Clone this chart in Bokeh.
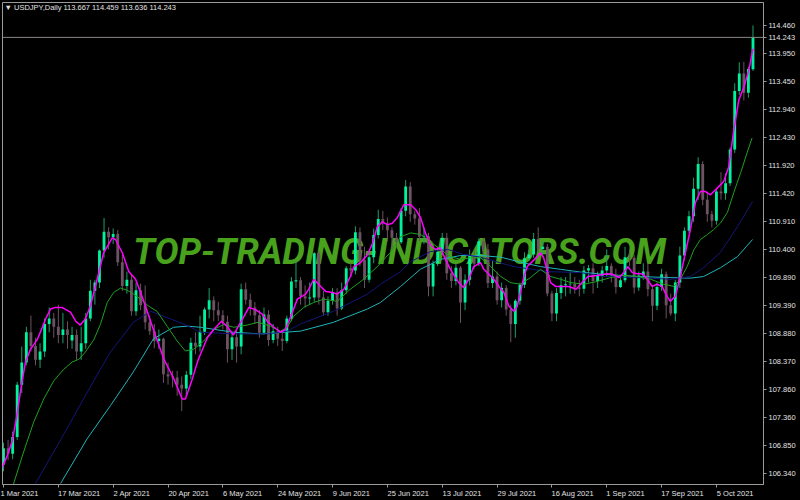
from bokeh.plotting import figure
from bokeh.models import (ColumnDataSource, LinearAxis, FixedTicker, Range1d, Label, Span,
                          NumeralTickFormatter, GlobalInlineStyleSheet)
from bokeh.embed import file_html
from bokeh.resources import INLINE

# ---------------- data (USDJPY daily, 1 Mar 2021 .. 15 Oct 2021) ----------------
symbol = "USDJPY,Daily"

opens = [
    # Mar
    106.50, 106.80, 106.70, 107.00, 107.95, 108.35, 108.90, 108.65, 108.40, 108.55, 109.05, 109.15,
    109.00, 108.85, 108.95, 108.75, 108.85, 108.55, 108.70, 109.15, 109.65, 109.80, 110.38,
    # Apr
    110.72, 110.62, 110.68, 110.17, 109.74, 109.85, 109.28, 109.66, 109.39, 109.08, 108.92, 108.74,
    108.78, 108.14, 108.10, 108.08, 107.95, 107.88, 108.13, 108.71, 108.64, 108.91,
    # May
    109.31, 109.48, 109.30, 109.21, 109.09, 108.59, 108.81, 108.64, 109.68, 109.49, 109.35, 109.21,
    108.89, 109.22, 108.76, 108.92, 108.78, 108.74, 109.15, 109.82, 109.84,
    # Jun
    109.55, 109.51, 109.53, 110.33, 109.53, 109.26, 109.47, 109.62, 109.33, 109.66, 110.06, 110.02,
    110.71, 110.21, 109.85, 110.26, 110.66, 110.95, 110.87, 110.75, 110.61, 110.53,
    # Jul
    111.10, 111.54, 111.04, 110.96, 110.63, 110.64, 109.73, 110.14, 110.36, 110.61, 109.97, 109.83,
    110.07, 109.44, 109.85, 110.28, 110.14, 110.55, 110.40, 109.79, 109.91, 109.48,
    # Aug
    109.70, 109.31, 109.05, 109.47, 109.76, 110.24, 110.31, 110.59, 110.41, 110.45, 109.60, 109.24,
    109.61, 109.75, 109.77, 109.78, 109.71, 109.69, 110.02, 110.06, 109.83, 109.92,
    # Sep
    110.02, 110.10, 109.93, 109.72, 109.84, 110.26, 110.25, 109.71, 109.93, 110.00, 109.68, 109.38,
    109.72, 109.95, 109.39, 109.24, 109.80, 110.29, 110.74, 111.00, 111.50, 111.95,
    # Oct
    111.30, 111.04, 110.92, 111.45, 111.42, 111.60, 112.21, 113.27, 113.59, 113.24, 113.667,
]
highs = [
    106.90, 106.95, 107.10, 108.00, 108.64, 109.00, 109.20, 108.80, 108.70, 109.15, 109.35, 109.25,
    109.40, 109.25, 109.10, 109.00, 108.95, 109.00, 109.25, 109.85, 109.85, 110.40, 110.97,
    110.80, 110.78, 110.75, 110.30, 110.00, 109.95, 109.80, 109.78, 109.75, 109.20, 109.05, 108.95,
    108.80, 108.35, 108.20, 108.20, 108.10, 108.20, 108.80, 108.90, 109.20, 109.35,
    109.70, 109.55, 109.45, 109.30, 109.20, 108.90, 108.95, 109.78, 109.80, 109.60, 109.45, 109.30,
    109.35, 109.30, 109.05, 109.00, 108.90, 109.20, 109.90, 110.20, 109.90,
    109.75, 109.80, 110.35, 110.38, 109.65, 109.55, 109.70, 109.70, 109.80, 110.10, 110.15, 110.82,
    110.80, 110.45, 110.35, 110.78, 111.12, 111.10, 110.98, 110.80, 110.70, 111.15,
    111.66, 111.62, 111.10, 111.15, 110.80, 110.70, 110.20, 110.45, 110.70, 110.70, 110.10, 110.15,
    110.10, 109.95, 110.40, 110.40, 110.60, 110.60, 110.50, 110.20, 110.00, 109.80,
    109.75, 109.40, 109.50, 109.80, 110.35, 110.40, 110.70, 110.80, 110.55, 110.50, 109.65, 109.70,
    109.90, 109.90, 110.00, 109.90, 109.85, 110.10, 110.12, 110.15, 110.00, 110.10,
    110.40, 110.15, 110.05, 109.90, 110.45, 110.40, 110.30, 110.00, 110.15, 110.15, 109.75, 109.80,
    110.05, 110.00, 109.60, 109.85, 110.45, 110.80, 111.10, 111.70, 112.07, 112.00,
    111.45, 111.10, 111.50, 111.80, 111.78, 112.25, 113.41, 113.79, 113.80, 113.71, 114.459,
]
lows = [
    106.38, 106.58, 106.60, 106.95, 107.80, 108.30, 108.55, 108.30, 108.25, 108.45, 108.90, 108.80,
    108.70, 108.70, 108.60, 108.60, 108.40, 108.40, 108.60, 109.10, 109.40, 109.70, 110.25,
    110.40, 110.50, 110.10, 109.65, 109.60, 109.20, 109.20, 109.30, 108.95, 108.85, 108.61, 108.60,
    107.98, 107.95, 107.90, 107.75, 107.47, 107.75, 108.05, 108.50, 108.55, 108.85,
    109.15, 109.10, 109.10, 108.95, 108.35, 108.40, 108.35, 108.50, 109.40, 109.20, 109.05, 108.80,
    108.85, 108.65, 108.70, 108.65, 108.56, 108.70, 109.10, 109.70, 109.40,
    109.35, 109.40, 109.45, 109.40, 109.20, 109.20, 109.40, 109.20, 109.30, 109.60, 109.90, 109.95,
    110.10, 109.70, 109.80, 110.15, 110.60, 110.75, 110.55, 110.40, 110.45, 110.50,
    111.00, 110.90, 110.85, 110.55, 110.50, 109.55, 109.55, 110.10, 110.30, 109.85, 109.70, 109.75,
    109.07, 109.30, 109.75, 110.05, 110.10, 110.30, 109.70, 109.70, 109.40, 109.35,
    109.20, 108.72, 108.80, 109.40, 109.70, 110.20, 110.25, 110.35, 110.30, 109.55, 109.10, 109.10,
    109.50, 109.55, 109.60, 109.60, 109.55, 109.60, 109.80, 109.60, 109.70, 109.80,
    109.90, 109.80, 109.60, 109.70, 109.80, 110.10, 109.60, 109.65, 109.85, 109.55, 109.10, 109.30,
    109.65, 109.15, 109.20, 109.10, 109.70, 110.20, 110.70, 110.90, 111.30, 111.20,
    110.90, 110.80, 110.85, 111.30, 111.30, 111.55, 112.15, 113.20, 113.10, 113.15, 113.636,
]
closes = [
    106.80, 106.70, 107.00, 107.95, 108.35, 108.90, 108.65, 108.40, 108.55, 109.05, 109.15, 109.00,
    108.85, 108.95, 108.85, 108.85, 108.55, 108.70, 109.15, 109.65, 109.80, 110.38, 110.72,
    110.62, 110.68, 110.17, 109.74, 109.85, 109.28, 109.66, 109.39, 109.08, 108.92, 108.74, 108.78,
    108.14, 108.10, 108.08, 107.95, 107.88, 108.13, 108.71, 108.64, 108.91, 109.31,
    109.48, 109.30, 109.21, 109.09, 108.59, 108.81, 108.64, 109.68, 109.49, 109.35, 109.21, 108.89,
    109.22, 108.76, 108.92, 108.78, 108.74, 109.15, 109.82, 109.84, 109.55,
    109.51, 109.53, 110.33, 109.53, 109.26, 109.47, 109.62, 109.33, 109.66, 110.06, 110.02, 110.71,
    110.21, 109.85, 110.26, 110.66, 110.95, 110.87, 110.75, 110.61, 110.53, 111.10,
    111.54, 111.04, 110.96, 110.63, 110.64, 109.73, 110.14, 110.36, 110.61, 109.97, 109.83, 110.07,
    109.44, 109.85, 110.28, 110.14, 110.55, 110.40, 109.79, 109.91, 109.48, 109.70,
    109.31, 109.05, 109.47, 109.76, 110.24, 110.31, 110.59, 110.41, 110.45, 109.60, 109.24, 109.61,
    109.75, 109.77, 109.78, 109.71, 109.69, 110.02, 110.06, 109.83, 109.92, 110.02,
    110.10, 109.93, 109.72, 109.84, 110.26, 110.25, 109.71, 109.93, 110.00, 109.68, 109.38, 109.72,
    109.95, 109.39, 109.24, 109.80, 110.29, 110.74, 111.00, 111.50, 111.95, 111.30,
    111.04, 110.92, 111.45, 111.42, 111.60, 112.21, 113.27, 113.59, 113.24, 113.67, 114.243,
]

# moving averages (bar index, price)
ma_fast_x = [-0.2, 0.8, 1.9, 2.8, 3.9, 4.8, 5.9, 7.4, 8.5, 9.2, 10.3, 11.4, 12.8, 14.7, 15.8, 16.8,
             17.9, 19.0, 20.5, 21.9, 23.8, 24.5, 26.0, 27.4, 28.9, 30.3, 31.8, 33.3, 35.1, 37.3, 39.1,
             39.8, 41.3, 42.6, 44.6, 46.0, 47.7, 49.0, 50.3, 51.9, 53.7, 55.3, 56.6, 57.7, 59.2, 60.6,
             61.7, 63.2, 64.3, 66.1, 66.8, 67.9, 69.4, 70.5, 72.0, 73.0, 74.5, 75.9, 76.7, 78.1, 79.6,
             80.7, 81.8, 82.9, 84.0, 85.0, 86.2, 87.6, 89.1, 90.2, 91.3, 92.3, 93.4, 94.5, 95.6, 96.7,
             97.8, 99.6, 100.7, 101.8, 102.9, 104.4, 105.1, 106.2, 107.3, 108.4, 109.5, 110.6, 111.7,
             112.4, 113.1, 113.9, 114.6, 115.7, 116.8, 117.5, 118.2, 118.9, 119.7, 120.8, 122.2, 123.7,
             125.3, 126.6, 127.9, 129.8, 132.1, 133.2, 134.7, 135.7, 136.6, 137.6, 138.7, 139.8, 140.9,
             141.9, 143.0, 144.1, 145.2, 145.9, 147.0, 148.1, 149.2, 150.3, 151.4, 152.5, 153.6, 154.7,
             155.8, 157.6, 158.7, 159.8, 160.9, 162.0, 163.1, 164.0]
ma_fast_y = [106.46, 106.66, 106.92, 107.33, 107.93, 108.36, 108.59, 108.77, 108.99, 109.14, 109.32,
             109.35, 109.35, 109.26, 109.10, 109.03, 109.14, 109.37, 109.86, 110.34, 110.61, 110.58,
             110.34, 110.00, 109.86, 109.55, 109.19, 108.83, 108.41, 108.05, 107.69, 107.69, 108.05,
             108.40, 108.80, 108.95, 109.10, 109.00, 108.85, 109.08, 109.35, 109.30, 109.23, 109.10,
             108.99, 108.90, 108.95, 109.26, 109.50, 109.59, 109.68, 109.86, 109.73, 109.64, 109.62,
             109.59, 109.68, 109.91, 110.09, 110.16, 110.30, 110.50, 110.81, 110.90, 110.85, 110.87,
             110.98, 111.21, 111.21, 111.12, 110.97, 110.70, 110.49, 110.40, 110.43, 110.22, 110.04,
             109.80, 109.71, 109.86, 110.09, 110.16, 110.04, 109.95, 109.86, 109.73, 109.62, 109.37,
             109.28, 109.37, 109.62, 109.91, 110.09, 110.18, 110.27, 110.34, 110.25, 110.04, 109.80,
             109.73, 109.73, 109.73, 109.68, 109.80, 109.91, 109.93, 109.96, 109.95, 109.89, 109.98,
             110.09, 109.98, 109.96, 109.96, 109.86, 109.73, 109.77, 109.73, 109.55, 109.46, 109.55,
             109.91, 110.34, 110.76, 111.25, 111.45, 111.45, 111.39, 111.48, 111.63, 111.90, 112.56,
             113.11, 113.34, 113.65, 114.04]

ma_mid_x = [2.0, 4.4, 6.6, 8.8, 11.0, 13.2, 15.0, 16.5, 17.9, 19.8, 21.2, 22.7, 24.1, 25.6, 27.1, 28.5,
            30.0, 31.8, 33.6, 35.8, 38.0, 39.8, 41.6, 43.8, 46.0, 48.2, 50.4, 53.3, 55.7, 58.4, 60.6,
            62.1, 63.5, 65.7, 67.9, 70.1, 73.0, 75.9, 78.8, 81.8, 84.7, 86.9, 89.1, 91.3, 93.4, 95.6,
            97.8, 100.0, 102.2, 104.4, 106.6, 108.8, 110.9, 113.1, 115.3, 117.5, 119.7, 121.9, 124.1,
            127.0, 129.9, 132.8, 135.7, 138.7, 141.6, 144.5, 146.7, 148.1, 149.6, 151.1, 152.5, 154.0,
            155.4, 156.9, 158.4, 159.8, 161.3, 162.7, 163.8]
ma_mid_y = [106.10, 106.73, 107.27, 107.69, 108.02, 108.23, 108.36, 108.41, 108.54, 108.77, 109.04,
            109.44, 109.62, 109.70, 109.66, 109.59, 109.50, 109.37, 109.28, 109.01, 108.74, 108.56,
            108.59, 108.74, 108.95, 109.04, 108.99, 109.03, 109.08, 109.01, 108.92, 108.99, 109.19,
            109.35, 109.44, 109.50, 109.46, 109.68, 109.86, 110.09, 110.35, 110.63, 110.70, 110.67,
            110.54, 110.40, 110.27, 110.22, 110.25, 110.25, 110.09, 109.91, 109.80, 109.77, 109.89,
            110.04, 109.91, 109.86, 109.80, 109.77, 109.82, 109.89, 109.93, 109.91, 109.86, 109.77,
            109.73, 109.86, 110.09, 110.40, 110.58, 110.67, 110.76, 110.88, 111.07, 111.43, 111.79,
            112.15, 112.42]

ma_slow_x = [7.0, 12.5, 17.5, 21.2, 23.4, 28.4, 32.2, 39.4, 43.1, 50.3, 57.8, 62.1, 65.0, 72.2, 79.6,
             82.5, 86.9, 89.1, 93.4, 97.2, 100.7, 104.4, 111.6, 119.0, 126.3, 131.3, 138.7, 146.0,
             150.3, 153.2, 156.9, 160.6, 163.9]
ma_slow_y = [106.16, 106.95, 107.69, 108.23, 108.54, 109.08, 109.28, 109.05, 108.90, 108.87, 108.87,
             108.92, 109.05, 109.28, 109.59, 109.77, 110.00, 110.18, 110.36, 110.40, 110.31, 110.26,
             110.09, 110.00, 109.98, 109.91, 109.89, 109.86, 109.91, 110.07, 110.35, 110.81, 111.27]

ma_long_x = [12.5, 18.3, 23.4, 28.4, 32.8, 37.2, 40.3, 43.1, 50.3, 56.2, 65.0, 72.2, 79.6, 82.5, 86.9,
             91.2, 95.6, 100.0, 104.4, 108.8, 113.1, 117.5, 121.9, 126.3, 131.3, 138.7, 146.0, 150.3,
             153.2, 156.9, 160.6, 163.9]
ma_long_y = [106.16, 106.97, 107.57, 108.18, 108.78, 108.99, 109.01, 108.99, 108.90, 108.87, 108.92,
             109.08, 109.32, 109.44, 109.73, 110.04, 110.22, 110.29, 110.29, 110.26, 110.17, 110.09,
             110.04, 109.99, 109.95, 109.91, 109.89, 109.88, 109.91, 110.07, 110.27, 110.58]

date_tick_bars = [0, 12, 24, 36, 48, 60, 72, 84, 96, 108, 120, 132, 144, 156]
date_tick_labels = ["1 Mar 2021", "17 Mar 2021", "2 Apr 2021", "20 Apr 2021", "6 May 2021",
                    "24 May 2021", "9 Jun 2021", "25 Jun 2021", "13 Jul 2021", "29 Jul 2021",
                    "16 Aug 2021", "1 Sep 2021", "17 Sep 2021", "5 Oct 2021"]
price_ticks = [114.460, 113.950, 113.450, 112.940, 112.430, 111.920, 111.420, 110.910, 110.400,
               109.890, 109.390, 108.880, 108.370, 107.860, 107.360, 106.850, 106.340]

# ---------------- styling ----------------
BG = "#000000"
FRAME = "#9A9A9A"
TXT = "#E2E2E2"
BULL = "#00F29C"
BULL_WICK = "#1E9E68"
BEAR = "#6C5262"
FONT = "Liberation Sans"

# approximate advance widths (em) of Liberation Sans, used to left-align the centred date labels
_ADV = {" ": 0.278, "M": 0.833, "a": 0.556, "r": 0.333, "A": 0.667, "p": 0.556, "y": 0.5, "J": 0.5,
        "u": 0.556, "n": 0.556, "l": 0.222, "g": 0.556, "S": 0.667, "e": 0.556, "O": 0.778,
        "c": 0.5, "t": 0.278}


def left_aligned(s):
    w = sum(_ADV.get(ch, 0.556) for ch in s)
    return "\u00A0" * int(round(w / 0.278)) + s


p = figure(width=800, height=500,
           x_range=Range1d(-0.219, 166.3), y_range=Range1d(106.141, 114.875),
           output_backend="svg", toolbar_location=None, y_axis_location=None,
           background_fill_color=BG, border_fill_color=BG,
           min_border_left=2, min_border_top=2, min_border_right=37, min_border_bottom=14)
p.stylesheets = [GlobalInlineStyleSheet(css="html, body { margin: 0 !important; padding: 0; background: #000000; }")]
p.outline_line_color = FRAME
p.outline_line_width = 1
p.grid.visible = False

# watermark (behind everything)
p.add_layout(Label(x=86.7, y=110.36, text="TOP-TRADING-INDICATORS.COM", text_font="Roboto",
                   text_font_style="bold italic", text_font_size="36px", text_color="#48A21C",
                   text_align="center", text_baseline="middle", level="underlay"))

# candles
n = len(closes)
idx = list(range(n))
up = [closes[i] >= opens[i] for i in idx]


def subset(flag):
    ii = [i for i in idx if up[i] == flag]
    return ColumnDataSource(dict(
        x=ii,
        high=[highs[i] for i in ii], low=[lows[i] for i in ii],
        top=[max(opens[i], closes[i]) for i in ii],
        bottom=[min(opens[i], closes[i]) for i in ii],
    ))


src_up = subset(True)
src_dn = subset(False)
p.segment(x0="x", y0="low", x1="x", y1="high", source=src_up, line_color=BULL_WICK, line_width=1)
p.segment(x0="x", y0="low", x1="x", y1="high", source=src_dn, line_color=BEAR, line_width=1)
p.vbar(x="x", width=0.62, top="top", bottom="bottom", source=src_up, fill_color=BULL, line_color=None)
p.vbar(x="x", width=0.62, top="top", bottom="bottom", source=src_dn, fill_color=BEAR, line_color=None)

# moving averages
p.line(ma_long_x, ma_long_y, line_color="#1FB3B8", line_width=1)
p.line(ma_slow_x, ma_slow_y, line_color="#15157A", line_width=1)
p.line(ma_mid_x, ma_mid_y, line_color="#1FA01F", line_width=1)
p.line(ma_fast_x, ma_fast_y, line_color="#FF00FF", line_width=1.5)

# current price line (its value is also marked on the price scale)
last = closes[-1]
p.add_layout(Span(location=last, dimension="width", line_color="#8E8686", line_width=1))

# header text
p.add_layout(Label(x=0.22, y=114.785,
                   text=f"\u25BC  {symbol}  {opens[-1]:.3f} {highs[-1]:.3f} {lows[-1]:.3f} {closes[-1]:.3f}",
                   text_font=FONT, text_font_size="7.5px", text_color=TXT, text_baseline="middle"))

# axes
xa = p.xaxis[0]
xa.ticker = FixedTicker(ticks=date_tick_bars)
xa.major_label_overrides = {b: (lab if k == 0 else left_aligned(lab))
                            for k, (b, lab) in enumerate(zip(date_tick_bars, date_tick_labels))}
xa.major_label_text_font = FONT
xa.major_label_text_font_size = "7.5px"
xa.major_label_text_color = TXT
xa.major_label_standoff = 1
xa.axis_line_color = FRAME
xa.major_tick_line_color = FRAME
xa.major_tick_in = 0
xa.major_tick_out = 3
xa.minor_tick_line_color = None

ya = LinearAxis(ticker=FixedTicker(ticks=price_ticks + [last]),
                formatter=NumeralTickFormatter(format="0.000"))
ya.major_label_text_font = FONT
ya.major_label_text_font_size = "7.5px"
ya.major_label_text_color = TXT
ya.major_label_standoff = 2
ya.axis_line_color = FRAME
ya.major_tick_line_color = FRAME
ya.major_tick_in = 0
ya.major_tick_out = 3
ya.minor_tick_line_color = None
p.add_layout(ya, "right")

open("out.html", "w").write(file_html(p, INLINE))
